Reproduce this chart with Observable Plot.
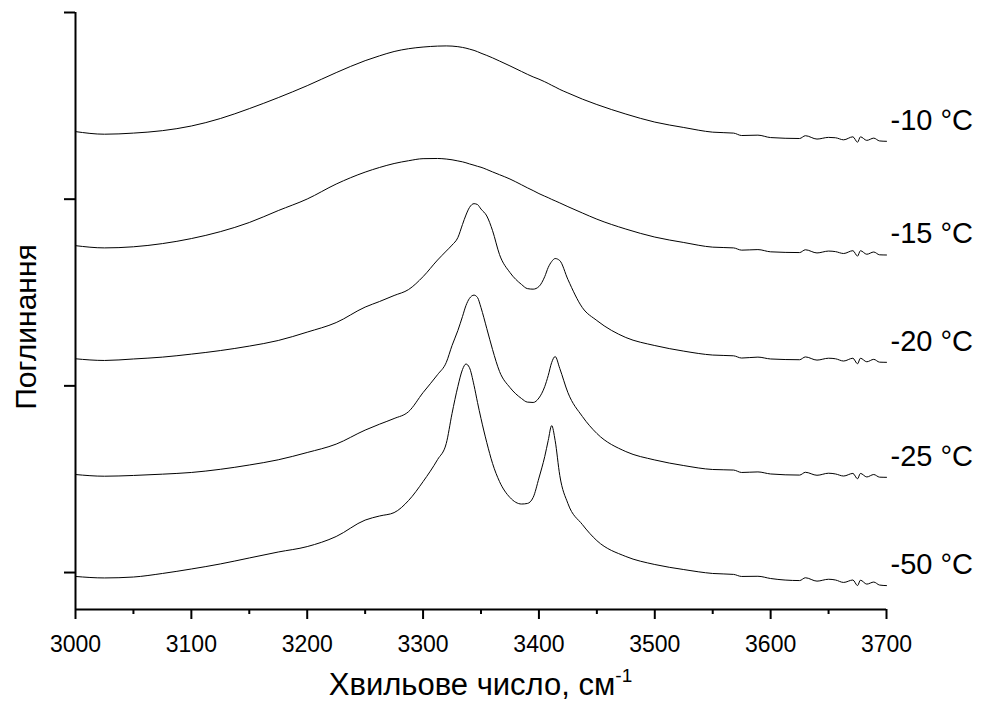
<!DOCTYPE html>
<html>
<head>
<meta charset="utf-8">
<script src="https://cdn.jsdelivr.net/npm/d3@7"></script>
<script src="https://cdn.jsdelivr.net/npm/@observablehq/plot@0.6"></script>
<style>
  html, body { margin: 0; padding: 0; background: #fff; }
  #chart svg { display: block; }
</style>
</head>
<body>
<div id="chart"></div>
<script>
// Wavenumber grid (cm^-1) shared by all spectra
const wavenumber = [
  3000, 3025, 3050, 3075, 3100, 3125, 3150, 3175, 3200, 3225,
  3250, 3262.5, 3275, 3287.5, 3300, 3312.5, 3320, 3325, 3330, 3334,
  3337, 3340, 3344, 3347, 3350, 3355, 3360, 3366, 3375, 3385,
  3390, 3395, 3400, 3405, 3408, 3411, 3414, 3418, 3425, 3437.5,
  3450, 3475, 3500, 3525, 3550, 3568, 3575, 3589, 3600, 3625,
  3630, 3640, 3650, 3656, 3663, 3671, 3675, 3677.5, 3683, 3689,
  3694, 3700
];

// Absorbance (offset spectra, arbitrary units)
const absM10 = [
  2.362, 2.348, 2.354, 2.367, 2.392, 2.432, 2.485, 2.544, 2.608, 2.678,
  2.742, 2.768, 2.791, 2.806, 2.815, 2.820, 2.821, 2.820, 2.817, 2.813,
  2.809, 2.804, 2.797, 2.790, 2.782, 2.770, 2.757, 2.740, 2.714, 2.684,
  2.669, 2.655, 2.643, 2.629, 2.620, 2.610, 2.601, 2.588, 2.569, 2.536,
  2.507, 2.456, 2.413, 2.384, 2.359, 2.354, 2.341, 2.343, 2.330, 2.325,
  2.340, 2.322, 2.331, 2.329, 2.318, 2.334, 2.305, 2.334, 2.315, 2.327,
  2.312, 2.310
];
const absM15 = [
  1.751, 1.739, 1.745, 1.762, 1.789, 1.826, 1.875, 1.939, 2.001, 2.081,
  2.145, 2.170, 2.191, 2.206, 2.217, 2.218, 2.215, 2.211, 2.205, 2.200,
  2.195, 2.189, 2.182, 2.176, 2.171, 2.159, 2.146, 2.131, 2.108, 2.077,
  2.061, 2.046, 2.030, 2.016, 2.008, 1.999, 1.991, 1.980, 1.960, 1.926,
  1.893, 1.840, 1.797, 1.768, 1.743, 1.739, 1.727, 1.730, 1.718, 1.714,
  1.729, 1.712, 1.722, 1.719, 1.709, 1.724, 1.695, 1.724, 1.705, 1.717,
  1.702, 1.701
];
const absM20 = [
  1.145, 1.136, 1.144, 1.154, 1.170, 1.189, 1.213, 1.243, 1.288, 1.339,
  1.422, 1.452, 1.484, 1.516, 1.585, 1.674, 1.722, 1.754, 1.794, 1.864,
  1.915, 1.955, 1.976, 1.971, 1.947, 1.910, 1.831, 1.703, 1.607, 1.543,
  1.521, 1.518, 1.532, 1.585, 1.634, 1.666, 1.682, 1.671, 1.570, 1.419,
  1.350, 1.259, 1.216, 1.186, 1.165, 1.161, 1.149, 1.154, 1.144, 1.140,
  1.155, 1.138, 1.148, 1.145, 1.133, 1.148, 1.118, 1.148, 1.129, 1.142,
  1.127, 1.126
];
const absM25 = [
  0.525, 0.516, 0.520, 0.527, 0.536, 0.553, 0.576, 0.604, 0.643, 0.688,
  0.763, 0.795, 0.825, 0.862, 0.964, 1.060, 1.125, 1.216, 1.296, 1.371,
  1.430, 1.468, 1.486, 1.473, 1.419, 1.307, 1.194, 1.077, 0.991, 0.932,
  0.913, 0.911, 0.935, 0.996, 1.055, 1.125, 1.157, 1.093, 0.964, 0.836,
  0.745, 0.648, 0.603, 0.573, 0.552, 0.549, 0.536, 0.539, 0.528, 0.522,
  0.537, 0.521, 0.532, 0.528, 0.517, 0.531, 0.502, 0.531, 0.512, 0.525,
  0.511, 0.510
];
const absM50 = [
  -0.021, -0.029, -0.024, -0.005, 0.019, 0.046, 0.078, 0.110, 0.139, 0.193,
  0.281, 0.303, 0.321, 0.386, 0.487, 0.605, 0.691, 0.852, 0.996, 1.087,
  1.117, 1.098, 1.002, 0.911, 0.825, 0.696, 0.584, 0.487, 0.402, 0.367,
  0.370, 0.402, 0.506, 0.621, 0.707, 0.787, 0.707, 0.520, 0.370, 0.257,
  0.171, 0.086, 0.043, 0.016, -0.005, -0.010, -0.021, -0.020, -0.032, -0.043,
  -0.028, -0.046, -0.036, -0.040, -0.053, -0.040, -0.070, -0.041, -0.062, -0.051,
  -0.067, -0.070
];

const seriesNames = ["-10 °C", "-15 °C", "-20 °C", "-25 °C", "-50 °C"];
const xMajorTicks = [3000, 3100, 3200, 3300, 3400, 3500, 3600, 3700];
const xMinorTicks = [3050, 3150, 3250, 3350, 3450, 3550, 3650];
const yTicks = [0, 1, 2, 3];
const xTitle = "Хвильове число, см";
const xTitleSup = "-1";
const yTitle = "Поглинання";

const seriesValues = [absM10, absM15, absM20, absM25, absM50];
const rows = seriesValues.flatMap((vals, s) =>
  vals.map((v, i) => ({ w: wavenumber[i], a: v, series: seriesNames[s] })));
const ends = seriesValues.map((vals, s) => ({
  w: wavenumber[wavenumber.length - 1], a: vals[vals.length - 1], label: seriesNames[s]
}));

const font = '"Liberation Sans", Arial, Helvetica, sans-serif';

const svgNode = Plot.plot({
  width: 983,
  height: 709,
  marginLeft: 75,
  marginRight: 97,
  marginTop: 12,
  marginBottom: 100,
  style: { fontFamily: font, background: "#fff", color: "#000" },
  x: { domain: [3000, 3700] },
  y: { domain: [-0.198, 3] },
  marks: [
    Plot.line(rows, { x: "w", y: "a", z: "series", stroke: "#000", strokeWidth: 1, curve: "monotone-x" }),
    Plot.axisX({ ticks: xMinorTicks, tickSize: 5, text: null, strokeWidth: 2, label: null }),
    Plot.axisX({ ticks: xMajorTicks, tickSize: 10, tickPadding: 16, tickFormat: d => String(d),
                 fontSize: 23, strokeWidth: 2, label: null, fill: "#000" }),
    Plot.axisY({ ticks: yTicks, tickSize: 11, text: null, strokeWidth: 2, label: null }),
    Plot.ruleY([-0.198], { stroke: "#000", strokeWidth: 2 }),
    Plot.ruleX([3000], { stroke: "#000", strokeWidth: 2 }),
    Plot.text(ends, { x: "w", y: "a", text: "label", dx: 4, dy: -21, textAnchor: "start",
                      fontSize: 29, fill: "#000" })
  ]
});

const svg = d3.select(svgNode);
const xt = svg.append("text")
  .attr("x", 480.5).attr("y", 695)
  .attr("text-anchor", "middle")
  .style("font-family", font).style("font-size", "31px").attr("fill", "#000");
xt.append("tspan").text(xTitle);
xt.append("tspan").attr("dy", -13).style("font-size", "19px").text(xTitleSup);

svg.append("text")
  .attr("transform", "translate(36,327) rotate(-90)")
  .attr("text-anchor", "middle")
  .style("font-family", font).style("font-size", "30px").attr("fill", "#000")
  .text(yTitle);

document.getElementById("chart").appendChild(svgNode);
</script>
</body>
</html>
